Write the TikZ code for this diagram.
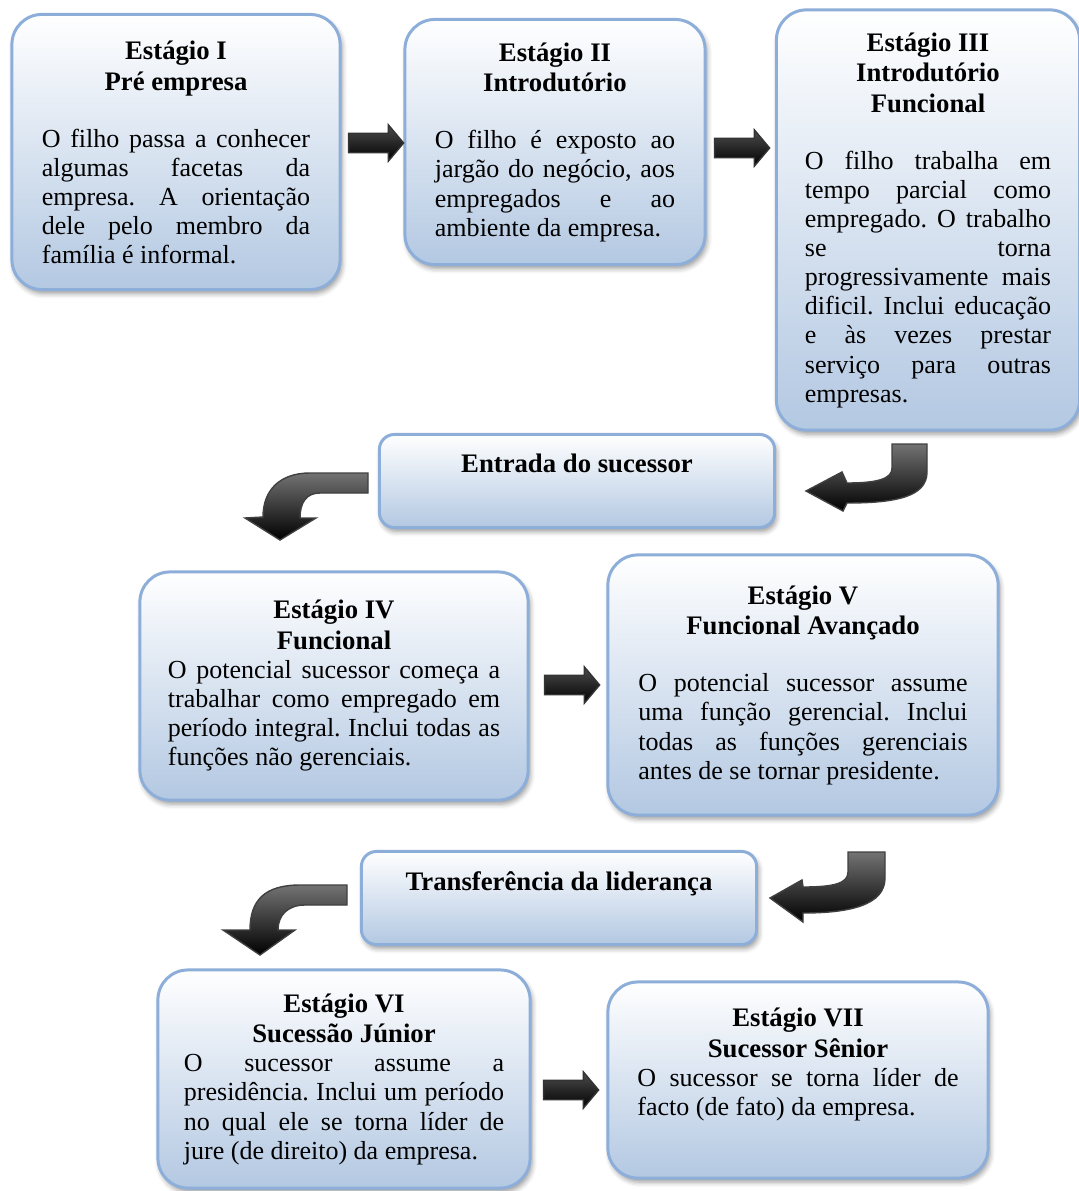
\documentclass[tikz,border=0pt]{standalone}
\usepackage{fontspec}
\setmainfont{Liberation Serif}
\usetikzlibrary{shapes.arrows,shadows.blur}
\definecolor{stageedge}{HTML}{8EAEDA}
\definecolor{stagefill}{HTML}{B3C8E2}
\hbadness=10000
\hyphenpenalty=10000
\tolerance=10000
\frenchspacing

\begin{document}
\begin{tikzpicture}
[x=0.01cm,y=-0.01cm,
stage/.style={draw=stageedge,line width=0.03cm,rounded corners=0.3cm,top color=white,bottom color=stagefill,inner sep=0pt,align=justify,font=\fontsize{7.4}{8.25}\selectfont,blur shadow={shadow xshift=0.02cm,shadow yshift=-0.04cm,shadow blur radius=0.05cm,shadow opacity=40}},
passbox/.style={stage,rounded corners=0.15cm,align=center,font=\bfseries\fontsize{7.6}{8.8}\selectfont,text height=0.2cm,text depth=0.36cm,minimum width=3.95cm,minimum height=0.93cm},
stagearrow/.style={single arrow,draw=black!80,top color=black!70,bottom color=black,inner sep=0.09cm,minimum height=0.55cm,single arrow head extend=0.085cm,single arrow tip angle=100},
turnarrow/.style={draw=black!75,top color=black!55,bottom color=black}]

\def\stagehead#1{{\centering\bfseries\fontsize{7.6}{8.8}\selectfont #1\par}}

\useasboundingbox (0,0) rectangle (1078,1191);

%First row
\node[stage,minimum width=3.28cm,minimum height=2.75cm,text width=2.68cm] (s1) at (176,152)
{\stagehead{Estágio I\\Pré empresa}\vspace{0.28cm}O filho passa a conhecer\linebreak algumas facetas da\linebreak empresa. A orientação\linebreak dele pelo membro da\linebreak família é informal.};
\node[stage,minimum width=3.0cm,minimum height=2.45cm,text width=2.40cm] (s2) at (555,142)
{\stagehead{Estágio II\\Introdutório}\vspace{0.28cm}O filho é exposto ao\linebreak jargão do negócio, aos\linebreak empregados e ao\linebreak ambiente da empresa.};
\node[stage,minimum width=3.03cm,minimum height=4.2cm,text width=2.46cm] (s3) at (928,220)
{\stagehead{Estágio III\\Introdutório\\Funcional}\vspace{0.28cm}O filho trabalha em\linebreak tempo parcial como\linebreak empregado. O trabalho\linebreak se torna\linebreak progressivamente mais\linebreak dificil. Inclui educação\linebreak e às vezes prestar\linebreak serviço para outras\linebreak empresas.};

\node[stagearrow] (r1) at (372,143) {};
\node[stagearrow] (r2) at (738,148) {};

%Entrada do sucessor
\node[passbox] (e1) at (577,481) {Entrada do sucessor};
\path[turnarrow] (892,444) -- (927,444) -- (927,472) .. controls (927,497) and (895,503) .. (847,503) -- (843,511) -- (806,491) -- (842,472) -- (847,483) .. controls (880,483) and (892,478) .. (892,468) -- cycle;
\path[turnarrow] (368,473) -- (310,473) .. controls (280,473) and (263,490) .. (263,517) -- (245,518) -- (280,540) -- (316,518) -- (300,518) .. controls (300,503) and (306,493) .. (320,493) -- (368,493) -- cycle;

%Second row
\node[stage,minimum width=3.88cm,minimum height=2.28cm,text width=3.32cm] (s4) at (334,686)
{\stagehead{Estágio IV\\Funcional}O potencial sucessor começa a\linebreak trabalhar como empregado em\linebreak período integral. Inclui todas as\linebreak funções não gerenciais.};
\node[stage,minimum width=3.90cm,minimum height=2.60cm,text width=3.29cm] (s5) at (803,685)
{\stagehead{Estágio V\\Funcional Avançado}\vspace{0.28cm}O potencial sucessor assume\linebreak uma função gerencial. Inclui\linebreak todas as funções gerenciais\linebreak antes de se tornar presidente.};
\node[stagearrow] (r3) at (568,685) {};

%Transferencia da lideranca
\node[passbox] (e2) at (559,898) {Transferência da liderança};
\path[turnarrow] (848,852) -- (885,852) -- (885,878) .. controls (885,905) and (850,913) .. (803,913) -- (803,922) -- (770,898) -- (802,880) -- (803,887) .. controls (835,887) and (848,883) .. (848,872) -- cycle;
\path[turnarrow] (347,885) -- (300,885) .. controls (265,885) and (250,900) .. (250,930) -- (223,930) -- (260,955) -- (295,930) -- (278,930) .. controls (278,915) and (288,905) .. (305,905) -- (347,905) -- cycle;

%Third row
\node[stage,minimum width=3.72cm,minimum height=2.18cm,text width=3.2cm] (s6) at (344,1079)
{\stagehead{Estágio VI\\Sucessão Júnior}O sucessor assume a\linebreak presidência. Inclui um período\linebreak no qual ele se torna líder de\linebreak jure (de direito) da empresa.};
\node[stage,minimum width=3.80cm,minimum height=1.96cm,text width=3.21cm] (s7) at (798,1080)
{\stagehead{Estágio VII\\Sucessor Sênior}O sucessor se torna líder de\linebreak facto (de fato) da empresa.\par\rule{0pt}{0.28cm}};
\node[stagearrow] (r4) at (567,1090) {};

\end{tikzpicture}
\end{document}
